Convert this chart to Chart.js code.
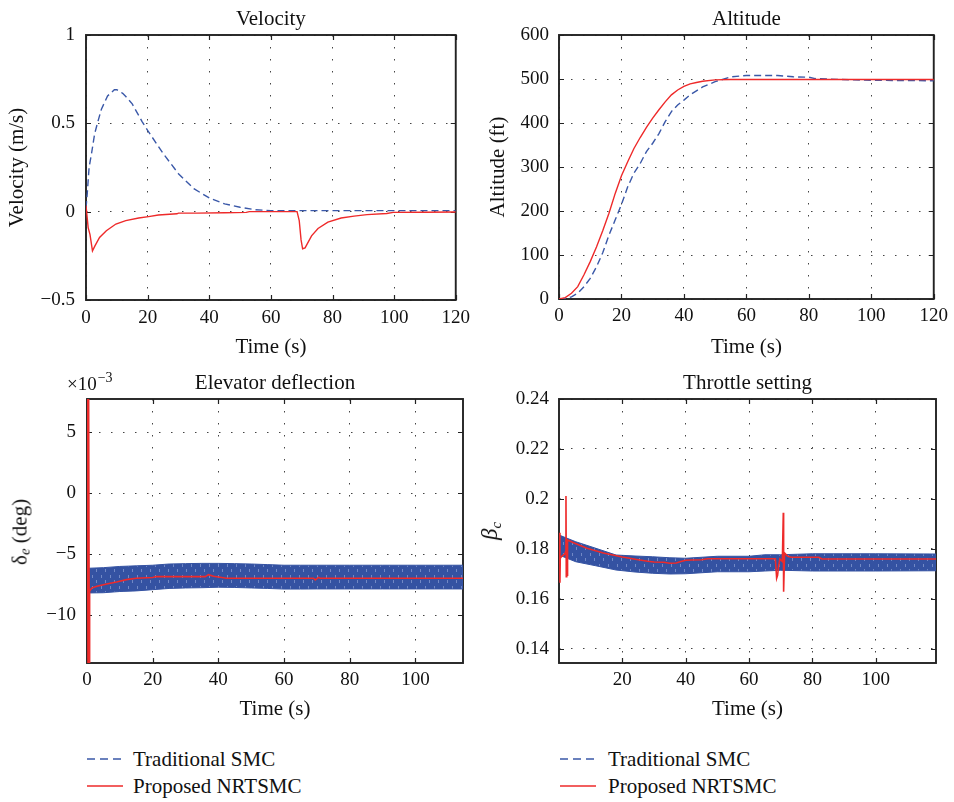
<!DOCTYPE html>
<html><head><meta charset="utf-8">
<script src="https://cdn.jsdelivr.net/npm/chart.js@4.4.1/dist/chart.umd.min.js"></script>
<style>
html,body{margin:0;padding:0;background:#fff;overflow:hidden;width:954px;height:802px;}
body{position:relative;font-family:"Liberation Serif","DejaVu Serif",serif;color:#111;}
canvas{position:absolute;}
.t{position:absolute;white-space:nowrap;font-size:21px;line-height:24px;color:#111;}
.rot{transform:translate(-50%,-50%) rotate(-90deg);transform-origin:center center;}
.leg{position:absolute;height:24px;line-height:24px;font-size:21px;white-space:nowrap;}
.leg svg{position:absolute;top:10px;left:0;}
.leg span{position:absolute;top:0;}
</style></head>
<body>
<canvas id="c1" width="477" height="360" style="left:0;top:0"></canvas>
<canvas id="c2" width="474" height="360" style="left:480px;top:0"></canvas>
<canvas id="c3" width="477" height="357" style="left:0;top:365px"></canvas>
<canvas id="c4" width="474" height="357" style="left:480px;top:365px"></canvas>

<div class="t" style="left:67px;top:366px;font-size:19px;">×10<sup style="font-size:14px;vertical-align:8px;margin-left:1px">−3</sup></div>
<div class="t rot" style="left:22px;top:532px;">δ<sub style="font-size:15px;font-style:italic;vertical-align:-3px">e</sub>&nbsp;(deg)</div>
<div class="t rot" style="left:493px;top:531px;"><i style="font-size:23px">β</i><sub style="font-size:15px;font-style:italic;vertical-align:-4px">c</sub></div>

<div class="leg" style="left:87px;top:747px;width:250px"><svg width="36" height="4"><line x1="0" y1="2" x2="36" y2="2" stroke="#3a58a8" stroke-width="1.6" stroke-dasharray="8,5"/></svg><span style="left:46px">Traditional SMC</span></div>
<div class="leg" style="left:87px;top:774px;width:250px"><svg width="36" height="4"><line x1="0" y1="2" x2="36" y2="2" stroke="#ee2a2a" stroke-width="1.6"/></svg><span style="left:46px">Proposed NRTSMC</span></div>
<div class="leg" style="left:560px;top:747px;width:250px"><svg width="36" height="4"><line x1="0" y1="2" x2="36" y2="2" stroke="#3a58a8" stroke-width="1.6" stroke-dasharray="8,5"/></svg><span style="left:48px">Traditional SMC</span></div>
<div class="leg" style="left:560px;top:774px;width:250px"><svg width="36" height="4"><line x1="0" y1="2" x2="36" y2="2" stroke="#ee2a2a" stroke-width="1.6"/></svg><span style="left:48px">Proposed NRTSMC</span></div>

<script>
// ---------- Data ----------
// Velocity (m/s)
const velSmcT = [0,0.4,1,1.8,2.8,3.7,5,7,9.2,10,11.9,13,15,18.2,20,25,30,35,40,45,50,55,60,70,80,90,100,110,120];
const velSmcV = [0.02,0.1,0.25,0.33,0.44,0.5,0.58,0.655,0.69,0.69,0.67,0.65,0.61,0.51,0.46,0.33,0.215,0.13,0.078,0.044,0.025,0.011,0.006,0.006,0.006,0.006,0.006,0.006,0.006];
const velNrtT = [0,0.7,1.3,2.1,2.9,4.4,6.6,9.7,12.9,17.1,20.3,23.5,29.5,30,36,45,52,53,68.5,69.2,69.8,70.3,71.1,73.2,75.3,78.5,82.8,87,91.2,97.6,99.7,110,120];
const velNrtV = [0.035,-0.09,-0.13,-0.222,-0.194,-0.146,-0.108,-0.07,-0.051,-0.036,-0.028,-0.019,-0.012,-0.008,-0.008,-0.006,-0.004,0,0,-0.05,-0.16,-0.21,-0.205,-0.137,-0.095,-0.059,-0.036,-0.025,-0.017,-0.01,-0.004,-0.003,-0.002];
// Altitude (ft)
const altSmcT = [0,2,4,6,8,10,12,14,16,18,20,22,24,26,28,30,32,34,36,38,40,42,44,46,48,50,52,55,60,70,75,80,82,90,100,120];
const altSmcV = [0,1,5,13,28,47,73,105,145,180,215,255,286,308,335,354,376,403,426,441,452,464,473,482,488,494,498,505,508,508,505,504,501,499,497,496];
const altNrtT = [0,2,4,6,8,10,12,14,16,18,20,22,24,26,28,30,32,34,36,38,40,42,44,46,50,55,60,120];
const altNrtV = [0,3,13,28,55,85,118,155,195,240,280,312,342,367,390,411,430,448,464,475,483,489,492,495,498,499,499,499];
// Elevator deflection (x10^-3 deg)
const elevSmcT  = [0.3,5,10,15,20,25,30,35,40,45,50,55,60,65,70,80,90,100,114.5];
const elevSmcHi = [-6.15,-6.1,-6.0,-5.95,-5.9,-5.8,-5.77,-5.75,-5.75,-5.77,-5.8,-5.85,-5.9,-5.9,-5.9,-5.9,-5.9,-5.9,-5.9];
const elevSmcLo = [-8.17,-8.15,-8.05,-8.0,-7.9,-7.8,-7.76,-7.74,-7.7,-7.72,-7.76,-7.8,-7.85,-7.85,-7.84,-7.84,-7.84,-7.84,-7.84];
const elevNrtT = [0.1,0.3,0.5,0.7,0.8,1.5,3,6,9,12,15,20,21,26,36,37,38.5,42.5,69,69.5,70.5,71,114.5];
const elevNrtV = [7.7,-13.9,7.7,-13.9,-8.0,-7.76,-7.62,-7.43,-7.27,-7.08,-6.97,-6.91,-6.83,-6.83,-6.83,-6.67,-6.8,-6.97,-6.97,-7.1,-6.9,-6.97,-6.97];
// Throttle setting (beta_c)
const thrSmcT  = [0,5.3,11.6,18,24,29.5,35,40,50,60,65,70,80,100,119];
const thrSmcHi = [0.1856,0.1829,0.1803,0.1776,0.1772,0.1769,0.1765,0.1763,0.1771,0.1771,0.1777,0.1777,0.1781,0.1781,0.1780];
const thrSmcLo = [0.1776,0.1749,0.1733,0.1716,0.1708,0.1703,0.1700,0.1701,0.1709,0.1709,0.1712,0.1715,0.1712,0.1712,0.1713];
const thrNrtT = [0.2,0.3,0.4,0.8,1.8,2.1,2.2,2.3,2.45,2.55,2.7,4.6,8.8,14,20,25,28,30,33,35,37,38.5,40,42,45,47,68.3,68.7,69,69.3,69.7,70.5,70.8,70.9,71.2,72.2,73.3,82,83,119];
const thrNrtV = [0.1865,0.1665,0.1763,0.177,0.178,0.179,0.2012,0.1689,0.183,0.1695,0.1836,0.1825,0.1803,0.1784,0.1768,0.1757,0.1751,0.1748,0.1747,0.1743,0.1744,0.175,0.1755,0.1756,0.1757,0.1761,0.1761,0.1683,0.1695,0.173,0.176,0.175,0.1945,0.1629,0.1784,0.1771,0.1767,0.1767,0.176,0.176];

// Tick values
const xTicks120 = [0,20,40,60,80,100,120];
const xTicksElev = [0,20,40,60,80,100];
const xTicksThr = [20,40,60,80,100];
const yTicksVel = [-0.5,0,0.5,1];
const yTicksAlt = [0,100,200,300,400,500,600];
const yTicksElev = [-10,-5,0,5];
const yTicksThr = [0.14,0.16,0.18,0.2,0.22,0.24];

// ---------- Styling ----------
const FONT = '"Liberation Serif","DejaVu Serif",serif';
const BLUE = '#3a58a8', BAND = '#3452a2', RED = '#ee2a2a', INK = '#111';

// textured fill imitating the dense chattering of the SMC signal
function bandPattern() {
  const c = document.createElement('canvas'); c.width = 9; c.height = 11;
  const g = c.getContext('2d');
  g.fillStyle = BAND; g.fillRect(0, 0, 9, 11);
  g.fillStyle = 'rgba(140,160,212,0.7)';
  g.fillRect(2, 1, 1, 3); g.fillRect(6, 6, 1, 3);
  return g.createPattern(c, 'repeat');
}
const BANDFILL = bandPattern();

const zip = (t, v) => t.map((x, i) => ({x, y: v[i]}));
const fmt = v => { const s = String(+(+v).toFixed(4)); return s.startsWith('-') ? '\u2212' + s.slice(1) : s; };

const boxPlugin = {
  id: 'box',
  beforeDatasetsDraw(chart) {
    const {ctx, chartArea: a, scales: {x, y}} = chart;
    ctx.save();
    ctx.strokeStyle = '#222';
    ctx.lineWidth = 1.2;
    ctx.beginPath();
    x.ticks.forEach(t => {
      const p = Math.round(x.getPixelForValue(t.value)) + 0.5;
      ctx.moveTo(p, a.bottom); ctx.lineTo(p, a.bottom - 5);
      ctx.moveTo(p, a.top); ctx.lineTo(p, a.top + 5);
    });
    y.ticks.forEach(t => {
      const p = Math.round(y.getPixelForValue(t.value)) + 0.5;
      ctx.moveTo(a.left, p); ctx.lineTo(a.left + 5, p);
      ctx.moveTo(a.right, p); ctx.lineTo(a.right - 5, p);
    });
    ctx.stroke();
    ctx.lineWidth = 1.9;
    ctx.strokeRect(a.left, a.top, a.right - a.left, a.bottom - a.top);
    ctx.restore();
  }
};

function xScale(max, ticks, height, pad, tpad) {
  return {
    type: 'linear', min: 0, max,
    afterBuildTicks: s => { s.ticks = ticks.map(v => ({value: v})); },
    afterFit: s => { s.height = height; },
    grid: {color: '#444', lineWidth: 1, drawTicks: false},
    border: {display: false, dash: [1.5, 10.5]},
    ticks: {font: {family: FONT, size: 19}, color: INK, padding: pad, maxRotation: 0, autoSkip: false, callback: v => fmt(v)},
    title: {display: true, text: 'Time (s)', color: INK, font: {family: FONT, size: 21, lineHeight: 1}, padding: {top: 0, bottom: tpad}}
  };
}
function yScale(min, max, ticks, width, pad, title, tpad) {
  return {
    type: 'linear', min, max,
    afterBuildTicks: s => { s.ticks = ticks.map(v => ({value: v})); },
    afterFit: s => { s.width = width; },
    grid: {color: '#444', lineWidth: 1, drawTicks: false},
    border: {display: false, dash: [1.5, 10.5]},
    ticks: {font: {family: FONT, size: 19}, color: INK, padding: pad, autoSkip: false, callback: v => fmt(v)},
    title: title ? {display: true, text: title, color: INK, font: {family: FONT, size: 21, lineHeight: 1}, padding: {top: tpad, bottom: 0}} : {display: false}
  };
}
function titleOpt(text, pt, pb) {
  return {display: true, text, fullSize: false, color: INK, font: {family: FONT, size: 21, weight: 'normal', lineHeight: 1}, padding: {top: pt, bottom: pb}};
}
function lineDs(label, data, color, dash) {
  return {label, data, borderColor: color, backgroundColor: color, borderWidth: 1.4, borderDash: dash || [], pointRadius: 0, tension: 0, fill: false};
}
function make(id, datasets, scales, title, padRight) {
  return new Chart(document.getElementById(id), {
    type: 'line',
    data: {datasets},
    options: {
      responsive: false, animation: false, devicePixelRatio: 1,
      layout: {padding: {left: 0, right: padRight, top: 0, bottom: 0}},
      plugins: {legend: {display: false}, tooltip: {enabled: false}, title},
      scales
    },
    plugins: [boxPlugin]
  });
}

// Velocity
make('c1', [
  lineDs('Proposed NRTSMC', zip(velNrtT, velNrtV), RED),
  lineDs('Traditional SMC', zip(velSmcT, velSmcV), BLUE, [7, 4])
], {
  x: xScale(120, xTicks120, 60, 7, 2),
  y: yScale(-0.5, 1, yTicksVel, 86, 11, 'Velocity (m/s)', 6.5)
}, titleOpt('Velocity', 8.5, 5.5), 13);

// Altitude
make('c2', [
  lineDs('Proposed NRTSMC', zip(altNrtT, altNrtV), RED),
  lineDs('Traditional SMC', zip(altSmcT, altSmcV), BLUE, [7, 4])
], {
  x: xScale(120, xTicks120, 61, 6, 2),
  y: yScale(0, 600, yTicksAlt, 79, 10, 'Altitude (ft)', 8)
}, titleOpt('Altitude', 8.5, 5.5), 19);

// Elevator deflection
const elevRed = lineDs('Proposed NRTSMC', zip(elevNrtT, elevNrtV), RED);
elevRed.borderWidth = 1.6;
make('c3', [
  elevRed,
  Object.assign(lineDs('Traditional SMC (upper)', zip(elevSmcT, elevSmcHi), BAND), {borderWidth: 1}),
  Object.assign(lineDs('Traditional SMC (lower)', zip(elevSmcT, elevSmcLo), BAND), {borderWidth: 1, fill: '-1', backgroundColor: BANDFILL})
], {
  x: xScale(114.5, xTicksElev, 59, 6, 2),
  y: yScale(-13.9, 7.7, yTicksElev, 87, 11, null, 0)
}, titleOpt('Elevator deflection', 7.5, 5.5), 14);

// Throttle setting
const thrRed = lineDs('Proposed NRTSMC', zip(thrNrtT, thrNrtV), RED);
thrRed.borderWidth = 1.6;
make('c4', [
  thrRed,
  Object.assign(lineDs('Traditional SMC (upper)', zip(thrSmcT, thrSmcHi), BAND), {borderWidth: 1}),
  Object.assign(lineDs('Traditional SMC (lower)', zip(thrSmcT, thrSmcLo), BAND), {borderWidth: 1, fill: '-1', backgroundColor: BANDFILL})
], {
  x: xScale(119, xTicksThr, 59, 6, 2),
  y: yScale(0.1344, 0.24, yTicksThr, 79, 10, null, 0)
}, titleOpt('Throttle setting', 7.5, 5.5), 18);
</script>
</body></html>
